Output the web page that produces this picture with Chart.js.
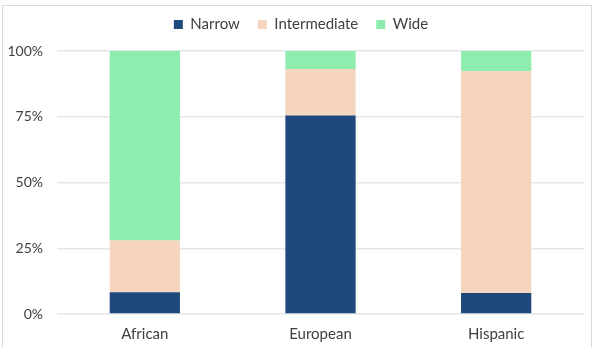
<!DOCTYPE html>
<html>
<head>
<meta charset="utf-8">
<script src="https://cdn.jsdelivr.net/npm/chart.js@4.4.0/dist/chart.umd.min.js"></script>
<style>
  body { margin: 0; background: #fff; }
  #frame { position: absolute; left: 2px; top: 5px; width: 590px; height: 360px; border: 1px solid #d9d9d9; box-sizing: border-box; }
  #wrap { position: absolute; left: 0; top: 0; width: 597px; height: 347px; }
</style>
</head>
<body>
<div id="frame"></div>
<div id="wrap"><canvas id="chart"></canvas></div>
<script>
// values, percent of each group
const groups = ["African", "European", "Hispanic"]
const narrow = [8.3, 75.5, 8.0]
const intermediate = [19.6, 17.7, 84.4]
const wide = [72.1, 6.8, 7.6]
const yTicks = [0, 25, 50, 75, 100]

const ctx = document.getElementById('chart')

// extra room under the legend, and nudge it right like the original
const legendTweak = {
    id: 'legendTweak',
    beforeInit(chart) {
        const fit = chart.legend.fit
        chart.legend.fit = function () {
            fit.bind(chart.legend)()
            this.height += 9
        }
    },
    afterLayout(chart) {
        chart.legend.left += 9
        chart.legend.right += 9
    }
}

new Chart(ctx, {
    type: 'bar',
    data: {
        labels: groups,
        datasets: [
            { label: 'Narrow', data: narrow, backgroundColor: '#1f487c' },
            { label: 'Intermediate', data: intermediate, backgroundColor: '#f5d5bd' },
            { label: 'Wide', data: wide, backgroundColor: '#8eedae' }
        ]
    },
    plugins: [legendTweak],
    options: {
        responsive: true,
        maintainAspectRatio: false,
        animation: false,
        layout: { padding: { left: 0, right: 13, top: -1, bottom: 0 } },
        datasets: { bar: { barPercentage: 0.8, categoryPercentage: 0.5, borderWidth: 0 } },
        plugins: {
            tooltip: { enabled: false },
            legend: {
                position: 'top',
                labels: {
                    boxWidth: 9,
                    boxHeight: 9,
                    padding: 18,
                    color: '#404040',
                    font: { family: 'Lato', size: 15 }
                }
            }
        },
        scales: {
            x: {
                stacked: true,
                grid: { display: false, drawTicks: false },
                border: { display: false },
                ticks: { color: '#404040', padding: 11, font: { family: 'Lato', size: 15 } },
                afterFit: function (scale) { scale.height = 33 }
            },
            y: {
                stacked: true,
                min: 0,
                max: 100,
                afterBuildTicks: function (scale) { scale.ticks = yTicks.map(v => ({ value: v })) },
                grid: { color: '#e6e6e6', lineWidth: 1.5, drawTicks: false },
                border: { display: false },
                ticks: {
                    color: '#404040',
                    padding: 14,
                    font: { family: 'Lato', size: 14 },
                    callback: function (v) { return v + '%' }
                },
                afterFit: function (scale) { scale.width = 57 }
            }
        }
    }
});
</script>
</body>
</html>
